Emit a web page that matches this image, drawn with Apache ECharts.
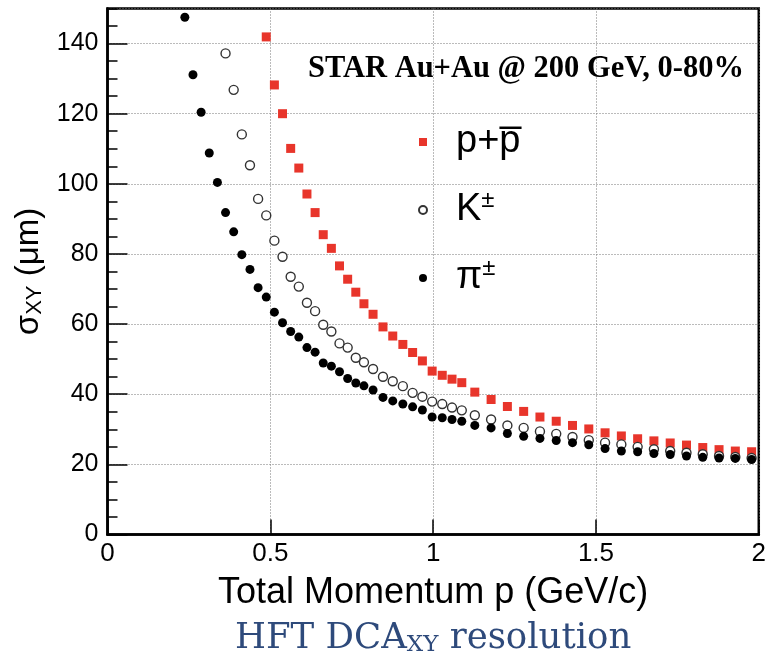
<!DOCTYPE html>
<html>
<head>
<meta charset="utf-8">
<script src="https://cdn.jsdelivr.net/npm/echarts@6/dist/echarts.min.js"></script>
<style>
html,body{margin:0;padding:0;background:#fff;}
#main{width:769px;height:661px;}
</style>
</head>
<body>
<div id="main"></div>
<script>
// momentum bins (GeV/c)
var momentum = [0.2375, 0.2625, 0.2875, 0.3125, 0.3375, 0.3625, 0.3875, 0.4125, 0.4375, 0.4625,
	0.4875, 0.5125, 0.5375, 0.5625, 0.5875, 0.6125, 0.6375, 0.6625, 0.6875, 0.7125,
	0.7375, 0.7625, 0.7875, 0.8155, 0.846, 0.876, 0.907, 0.937, 0.967, 0.997,
	1.028, 1.058, 1.088, 1.128, 1.178, 1.228, 1.278, 1.328, 1.378, 1.428,
	1.478, 1.528, 1.578, 1.628, 1.678, 1.728, 1.778, 1.828, 1.878, 1.928, 1.978];

// sigma_XY (um)
var pion = [147.5, 131.1, 120.4, 108.8, 100.4, 91.8, 86.3, 79.8, 75.6, 70.4,
	67.7, 63.4, 60.4, 57.9, 56.3, 53.3, 52.0, 48.9, 48.0, 46.4,
	44.5, 43.2, 42.4, 41.2, 39.1, 38.1, 37.2, 36.4, 35.5, 33.5,
	33.3, 32.8, 32.3, 31.1, 30.4, 28.8, 28.0, 27.4, 26.8, 26.2,
	25.6, 24.5, 23.8, 23.6, 23.1, 22.8, 22.4, 22.0, 21.8, 21.7, 21.4];

var kaon = [null, null, null, null, null, 137.2, 126.8, 114.1, 105.3, 95.7,
	91.0, 83.8, 79.2, 73.5, 70.7, 66.1, 63.7, 59.8, 57.9, 54.5,
	53.3, 50.4, 49.1, 47.2, 45.0, 43.7, 42.3, 40.4, 39.3, 37.9,
	37.2, 36.2, 35.4, 34.0, 32.8, 31.1, 30.4, 29.4, 28.7, 27.8,
	26.9, 26.2, 25.7, 25.0, 24.3, 23.8, 23.3, 22.9, 22.4, 22.1, 21.8];

var proton = [null, null, null, null, null, null, null, null, null, null,
	141.9, 128.2, 120.0, 110.1, 104.5, 97.1, 91.8, 85.5, 81.6, 76.6,
	72.8, 69.1, 65.8, 62.8, 59.2, 56.6, 54.2, 51.9, 49.5, 46.6,
	45.4, 44.3, 43.3, 40.6, 38.5, 36.5, 35.1, 33.5, 32.3, 31.1,
	30.1, 29.0, 28.1, 27.3, 26.7, 26.1, 25.5, 24.8, 24.2, 23.8, 23.6];

var names = ['p+p\u0305', 'K\u00b1', '\u03c0\u00b1'];

function pairs(vals){
	var out = [];
	for (var i = 0; i < momentum.length; i++) {
		if (vals[i] != null) out.push([momentum[i], vals[i]]);
	}
	return out;
}

var sans = 'Liberation Sans';
var myChart = echarts.init(document.getElementById('main'));

var option = {
	animation: false,
	title: [{
		text: '{a|HFT DCA}{s|XY}{a| resolution}',
		left: 230,
		top: 610,
		textStyle: {
			rich: {
				a: {fontFamily: 'DejaVu Serif', fontWeight: 'normal', fontSize: 35.5, color: '#2e4a7b', lineHeight: 42, verticalAlign: 'bottom'},
				s: {fontFamily: 'DejaVu Serif', fontWeight: 'normal', fontSize: 23, color: '#2e4a7b', lineHeight: 22, verticalAlign: 'bottom'}
			}
		}
	}, {
		text: 'STAR Au+Au @ 200 GeV, 0-80%',
		right: 20,
		top: 47,
		textStyle: {fontFamily: 'Liberation Serif', fontWeight: 'bold', fontSize: 30.5, color: '#000', lineHeight: 34}
	}],
	grid: {
		left: 107.5, right: 9.5, top: 8.5, bottom: 126.5,
		show: true, borderColor: '#000', borderWidth: 2.5, backgroundColor: '#fff'
	},
	legend: {
		orient: 'vertical',
		left: 418, top: 123,
		padding: 0,
		itemWidth: 8, itemHeight: 8,
		itemGap: 27,
		data: names,
		formatter: function(name){
			if (name == names[0]) return '{m|p+p\u0305}';
			if (name == names[1]) return '{m|K}{u|\u00b1}';
			return '{m|\u03c0}{u|\u00b1}';
		},
		textStyle: {
			rich: {
				m: {fontFamily: sans, fontSize: 38, color: '#000', lineHeight: 44, padding: [0, 0, 0, 24]},
				u: {fontFamily: sans, fontSize: 24, color: '#000', lineHeight: 44, verticalAlign: 'top'}
			}
		}
	},
	xAxis: {
		type: 'value', min: 0, max: 2, interval: 0.5,
		name: 'Total Momentum p (GeV/c)',
		nameLocation: 'middle', nameGap: 41,
		nameTextStyle: {fontFamily: sans, fontSize: 36, color: '#000'},
		axisLine: {lineStyle: {color: '#000', width: 2.5}},
		axisTick: {inside: true, length: 15, lineStyle: {color: '#000', width: 1.5}},
		axisLabel: {fontFamily: sans, fontSize: 26, color: '#000', margin: 6},
		splitLine: {show: true, lineStyle: {color: '#777', width: 1, type: [1, 2]}}
	},
	yAxis: [{
		type: 'value', min: 0, max: 150, interval: 20,
		name: '{a|\u03c3}{s|XY}{a| (\u03bcm)}',
		nameLocation: 'middle', nameGap: 56,
		nameTextStyle: {
			rich: {
				a: {fontFamily: sans, fontSize: 33, color: '#000', lineHeight: 40, verticalAlign: 'bottom'},
				s: {fontFamily: sans, fontSize: 22, color: '#000', lineHeight: 20, verticalAlign: 'bottom'}
			}
		},
		axisLine: {lineStyle: {color: '#000', width: 2.5}},
		axisTick: {inside: true, length: 20, lineStyle: {color: '#000', width: 1.5}},
		axisLabel: {fontFamily: sans, fontSize: 25, color: '#000', margin: 9, showMaxLabel: false},
		splitLine: {show: true, lineStyle: {color: '#777', width: 1, type: [1, 2]}}
	}, {
		// minor ticks every 5
		type: 'value', min: 0, max: 150, interval: 5, position: 'left',
		axisLine: {show: false},
		axisTick: {inside: true, length: 10, lineStyle: {color: '#000', width: 1.5}},
		axisLabel: {show: false},
		splitLine: {show: false}
	}],
	series: [{
		name: names[0], type: 'scatter', symbol: 'rect', symbolSize: 9,
		itemStyle: {color: '#e8352b', opacity: 1},
		data: pairs(proton)
	}, {
		name: names[1], type: 'scatter', symbol: 'circle', symbolSize: 9,
		itemStyle: {color: '#fff', borderColor: '#333', borderWidth: 1.4, opacity: 1},
		data: pairs(kaon)
	}, {
		name: names[2], type: 'scatter', symbol: 'circle', symbolSize: 9,
		itemStyle: {color: '#000', opacity: 1},
		data: pairs(pion)
	}]
};

myChart.setOption(option);
</script>
</body>
</html>
